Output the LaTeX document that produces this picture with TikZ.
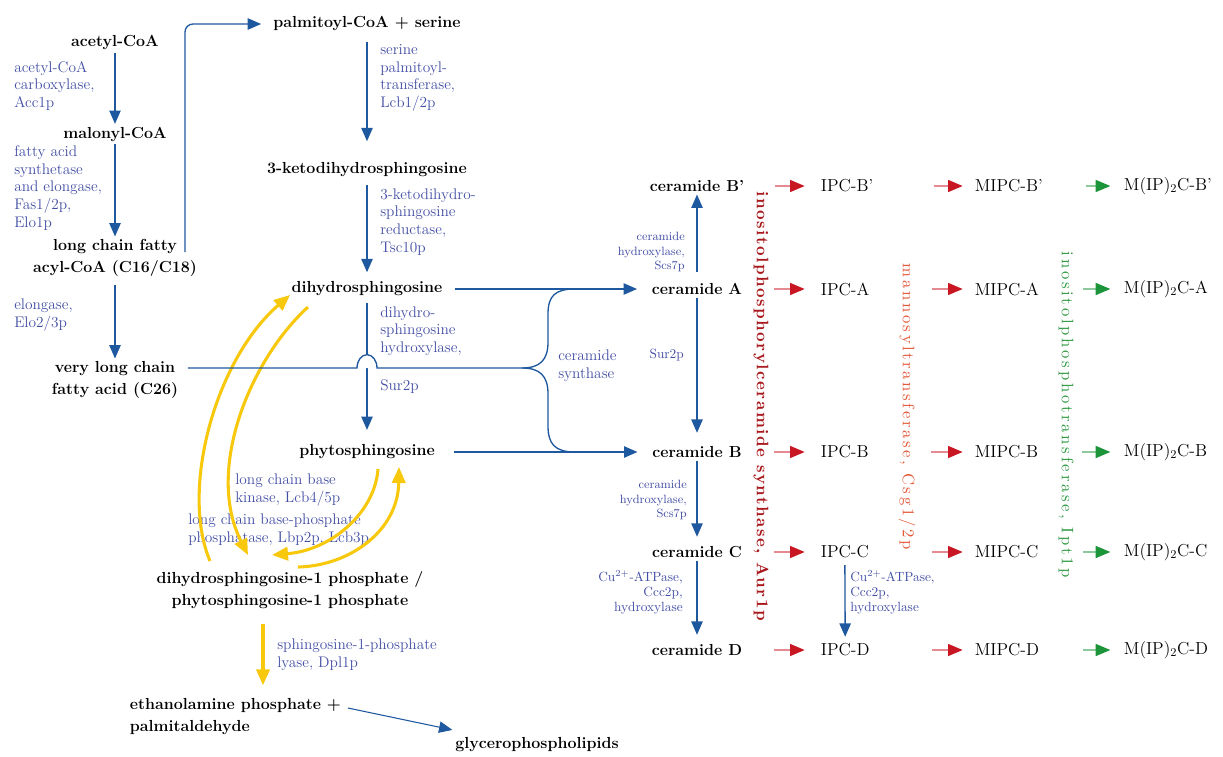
\documentclass[tikz,border=0pt]{standalone}
\usepackage{fontspec}
\usepackage{tikz}
\usetikzlibrary{arrows.meta,calc}

\newfontfamily\aurfont{lmroman10-bold.otf}[LetterSpace=9]
\newfontfamily\csgfont{lmroman10-regular.otf}[LetterSpace=15.5]
\newfontfamily\iptfont{lmroman10-regular.otf}[LetterSpace=16.5]

\definecolor{pathblue}{RGB}{30,88,158}
\definecolor{enzblue}{RGB}{66,78,164}
\definecolor{lcbyellow}{RGB}{247,200,12}
\definecolor{aurred}{RGB}{168,24,28}
\definecolor{csgred}{RGB}{228,88,56}
\definecolor{iptgreen}{RGB}{46,152,66}
\definecolor{ipcred}{RGB}{200,22,34}
\definecolor{mipgreen}{RGB}{28,148,58}

\begin{document}
\begin{tikzpicture}[x=0.75pt, y=-0.75pt,
    met/.style={font=\bfseries\fontsize{12}{16.5}\selectfont, align=center, inner sep=2pt},
    prod/.style={font=\fontsize{13}{15}\selectfont, inner sep=2pt, anchor=west},
    enz/.style={text=enzblue, font=\fontsize{11.5}{13.3}\selectfont, align=left, inner sep=0pt},
    enzsm/.style={text=enzblue, font=\fontsize{9}{10.8}\selectfont, align=right, inner sep=0pt},
    enzcu/.style={text=enzblue, font=\fontsize{10}{11.3}\selectfont, inner sep=0pt},
    flow/.style={draw=pathblue, line width=1pt, -{Triangle[length=10pt,width=8.5pt]}},
    brace/.style={draw=pathblue, line width=1pt},
    lcb/.style={draw=lcbyellow, line width=2.3pt, -{Triangle[length=12pt,width=10pt]}},
    ipc/.style={draw=ipcred!50, line width=1.1pt, -{Triangle[length=11pt,width=9pt,color=ipcred]}},
    mip/.style={draw=mipgreen!50, line width=1.1pt, -{Triangle[length=11pt,width=9pt,color=mipgreen]}},
    vtext/.style={rotate=-90, inner sep=0pt}
]
\useasboundingbox (0,0) rectangle (1223,756);

% fatty acid branch
\node[met] (acoa) at (115,43) {acetyl-CoA};
\node[met] (mcoa) at (115,134) {malonyl-CoA};
\node[met] (lcfa) at (115,258) {long chain fatty\\acyl-CoA (C16/C18)};
\node[met] (vlc) at (115,380) {very long chain\\fatty acid (C26)};

\node[enz, anchor=west] (acc) at (14,86) {acetyl-CoA\\carboxylase,\\Acc1p};
\node[enz, anchor=west] (fas) at (14,188) {fatty acid\\synthetase\\and elongase,\\Fas1/2p,\\Elo1p};
\node[enz, anchor=west] (elo) at (14,315) {elongase,\\Elo2/3p};

\draw[flow] (acoa) -- (mcoa);
\draw[flow] (mcoa) -- (lcfa);
\draw[flow, shorten <=4pt] (lcfa) -- (vlc);

% sphingoid bases
\node[met] (palm) at (367,24) {palmitoyl-CoA + serine};
\node[met] (kds) at (367,170) {3-ketodihydrosphingosine};
\node[met] (dhs) at (367,289) {dihydrosphingosine};
\node[met] (phs) at (367,452) {phytosphingosine};
\node[met] (dp) at (290,590) {dihydrosphingosine-1 phosphate /\\phytosphingosine-1 phosphate};
\node[met, align=left, anchor=west] (eth) at (127,717) {ethanolamine phosphate +\\palmitaldehyde};
\node[met] (glyc) at (537,745) {glycerophospholipids};

\node[enz, anchor=west] (spt) at (380,78) {serine\\palmitoyl-\\transferase,\\Lcb1/2p};
\node[enz, anchor=west] (tsc) at (380,222) {3-ketodihydro-\\sphingosine\\reductase,\\Tsc10p};
\node[enz, anchor=west] (dsh) at (380,331) {dihydro-\\sphingosine\\hydroxylase,};
\node[enz, anchor=west] (sur) at (380,387) {Sur2p};
\node[enz, anchor=west] (cers) at (558,366) {ceramide\\synthase};
\node[enz, anchor=west] (lcbk) at (235,490) {long chain base\\kinase, Lcb4/5p};
\node[enz, anchor=west] (lcbp) at (188,530) {long chain base-phosphate\\phosphatase, Lbp2p, Lcb3p};
\node[enz, anchor=west] (dpl) at (277,655) {sphingosine-1-phosphate\\lyase, Dpl1p};

\coordinate (lcfaup) at (185,252);
\draw[flow, rounded corners=6pt, shorten >=7pt] (lcfaup) |- (palm);
\draw[flow, shorten <=6pt, shorten >=14pt] (palm) -- (kds);
\draw[flow, shorten <=4pt, shorten >=5pt] (kds) -- (dhs);
\draw[flow, shorten <=3pt, shorten >=9pt] (dhs) -- (phs);

% kinase / phosphatase cycle
\draw[lcb] ($(dp)+(-80,-29)$) .. controls (180,490) and (215,360) .. ($(dhs)+(-77,6)$);
\draw[lcb] ($(dhs)+(-59,18)$) .. controls (250,360) and (205,470) .. ($(dp)+(-42,-35)$);
\draw[lcb] ($(phs)+(11,17)$) .. controls (375,512) and (332,550) .. ($(dp)+(-18,-35)$);
\draw[lcb] ($(dp)+(8,-23)$) .. controls (348,566) and (398,532) .. ($(phs)+(32,15)$);

\coordinate (lyase) at ($(dp.south)+(-27,0)$);
\draw[lcb, shorten <=9pt, shorten >=8pt] (lyase) -- (lyase |- eth.north);
\draw[flow, line width=0.8pt] ($(eth.east)+(4,-9)$) -- ($(glyc.north west)+(0,-5)$);

% ceramides
\node[met] (cerBp) at (697,186) {ceramide B'};
\node[met] (cerA) at (697,289) {ceramide A};
\node[met] (cerB) at (697,452) {ceramide B};
\node[met] (cerC) at (697,552) {ceramide C};
\node[met] (cerD) at (697,650) {ceramide D};

\node[enzsm, anchor=east] (scsA) at (685,252) {ceramide\\hydroxylase,\\Scs7p};
\node[enz, anchor=east, font=\fontsize{10}{12}\selectfont] (surA) at (684,355) {Sur2p};
\node[enzsm, anchor=east] (scsB) at (687,500) {ceramide\\hydroxylase,\\Scs7p};
\node[enzcu, anchor=east, align=right] (cccC) at (683,592) {Cu$^{2+}$-ATPase,\\Ccc2p,\\hydroxylase};

\draw[flow, shorten <=6pt] (cerA) -- (cerBp);
\draw[flow, shorten >=8pt] (cerA) -- (cerB);
\draw[flow, shorten >=5pt] (cerB) -- (cerC);
\draw[flow, shorten >=5pt] (cerC) -- (cerD);
\draw[flow, shorten <=7pt, shorten >=9pt] (dhs) -- (cerA);
\draw[flow, shorten <=12pt, shorten >=9pt] (phs) -- (cerB);

% ceramide synthase brace with line hop
\coordinate (brc) at (522,368);
\path (vlc.east |- brc) ++(7,0) coordinate (vlcout);
\draw[brace, fill=white] (vlcout) -- (357,368) arc[start angle=180, end angle=0, x radius=7.5pt, y radius=10pt] -- (brc);
\draw[brace] (brc) .. controls (540,368) and (548,360) .. (548,342) -- (548,314) .. controls (548,296) and (555,289) .. (575,289);
\draw[brace] (brc) .. controls (540,368) and (548,376) .. (548,394) -- (548,426) .. controls (548,444) and (555,452) .. (575,452);

% complex sphingolipids
\node[prod] (ipcBp) at (818,186) {IPC-B'};
\node[prod] (ipcA) at (818,289) {IPC-A};
\node[prod] (ipcB) at (818,452) {IPC-B};
\node[prod] (ipcC) at (818,552) {IPC-C};
\node[prod] (ipcD) at (818,650) {IPC-D};

\node[prod] (mipcBp) at (972,186) {MIPC-B'};
\node[prod] (mipcA) at (972,289) {MIPC-A};
\node[prod] (mipcB) at (972,452) {MIPC-B};
\node[prod] (mipcC) at (972,552) {MIPC-C};
\node[prod] (mipcD) at (972,650) {MIPC-D};

\node[prod] (m2cBp) at (1121,186) {M(IP)$_2$C-B'};
\node[prod] (m2cA) at (1121,289) {M(IP)$_2$C-A};
\node[prod] (m2cB) at (1121,452) {M(IP)$_2$C-B};
\node[prod] (m2cC) at (1121,552) {M(IP)$_2$C-C};
\node[prod] (m2cD) at (1121,650) {M(IP)$_2$C-D};

\node[enzcu, anchor=west, align=left] (cccI) at (850,592) {Cu$^{2+}$-ATPase,\\Ccc2p,\\hydroxylase};
\draw[flow, shorten <=3pt, shorten >=3pt] (ipcC.south) -- (ipcD.north);

\node[vtext, text=aurred, font=\aurfont\fontsize{12.5}{14}\selectfont] (aur) at (761,406) {inositolphosphorylceramide synthase, Aur1p};
\node[vtext, text=csgred, font=\csgfont\fontsize{12.5}{14}\selectfont] (csg) at (907,407) {mannosyltransferase, Csg1/2p};
\node[vtext, text=iptgreen, font=\iptfont\fontsize{12.5}{14}\selectfont] (ipt) at (1066,415) {inositolphosphotransferase, Ipt1p};

\draw[ipc, shorten <=21pt, shorten >=10pt] (cerBp) -- (ipcBp);
\draw[ipc, shorten <=22pt, shorten >=10pt] (cerA) -- (ipcA);
\draw[ipc, shorten <=22pt, shorten >=10pt] (cerB) -- (ipcB);
\draw[ipc, shorten <=22pt, shorten >=10pt] (cerC) -- (ipcC);
\draw[ipc, shorten <=22pt, shorten >=10pt] (cerD) -- (ipcD);

\draw[ipc, shorten <=43pt, shorten >=7pt] (ipcBp) -- (mipcBp);
\draw[ipc, shorten <=45pt, shorten >=7pt] (ipcA) -- (mipcA);
\draw[ipc, shorten <=45pt, shorten >=7pt] (ipcB) -- (mipcB);
\draw[ipc, shorten <=45pt, shorten >=7pt] (ipcC) -- (mipcC);
\draw[ipc, shorten <=45pt, shorten >=7pt] (ipcD) -- (mipcD);

\draw[mip, shorten <=30pt, shorten >=8pt] (mipcBp) -- (m2cBp);
\draw[mip, shorten <=31pt, shorten >=8pt] (mipcA) -- (m2cA);
\draw[mip, shorten <=31pt, shorten >=8pt] (mipcB) -- (m2cB);
\draw[mip, shorten <=31pt, shorten >=8pt] (mipcC) -- (m2cC);
\draw[mip, shorten <=31pt, shorten >=8pt] (mipcD) -- (m2cD);
\end{tikzpicture}
\end{document}
